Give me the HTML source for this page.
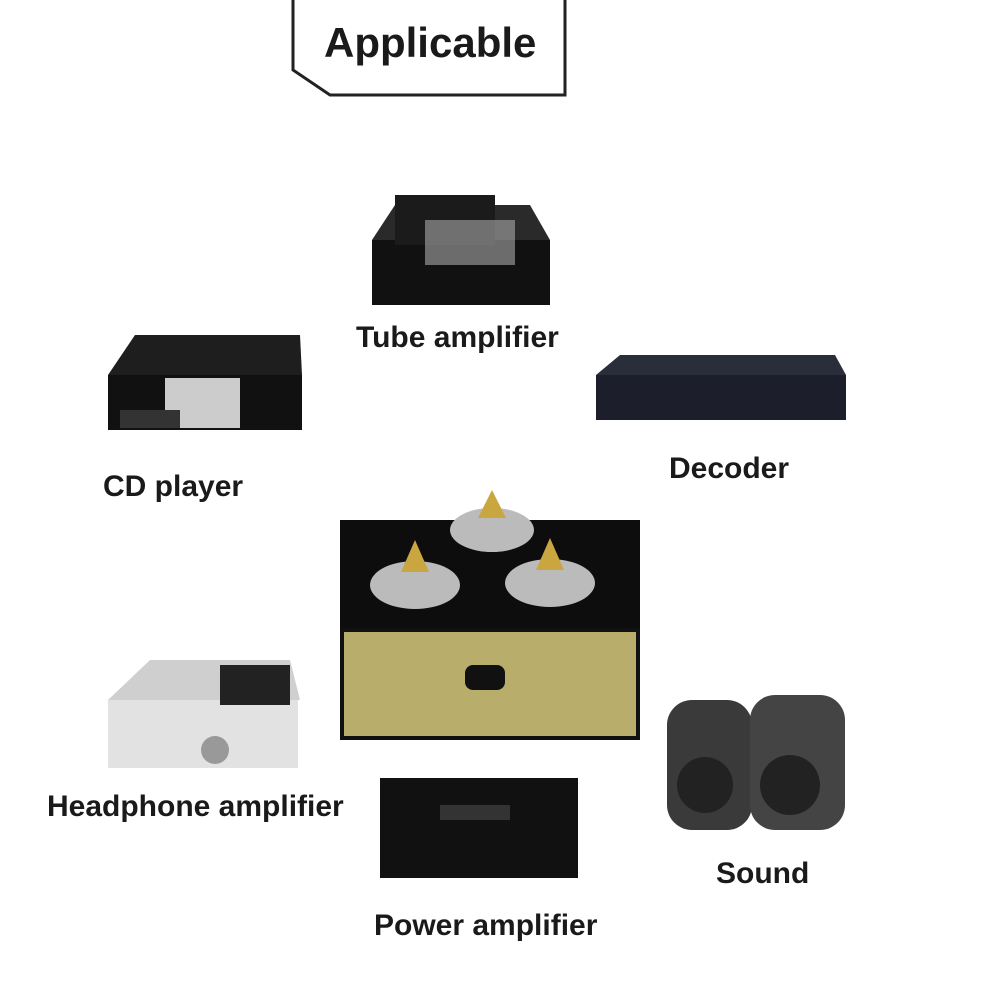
<!DOCTYPE html>
<html><head><meta charset="utf-8"><style>
body{margin:0;width:1000px;height:1000px;background:#fff;position:relative;overflow:hidden;font-family:"Liberation Sans",sans-serif}
.a{position:absolute}
.t{position:absolute;font-weight:bold;font-size:30px;color:#1a1a1a;white-space:nowrap}
</style></head><body>
<svg class="a" style="left:0;top:0" width="1000" height="1000">
<polyline points="293,0 293,70 330,95 565,95 565,0" fill="none" stroke="#222" stroke-width="3"/>
<polygon points="372,240 395,205 530,205 550,240" fill="#2a2a2a"/>
<rect x="372" y="240" width="178" height="65" fill="#111"/>
<rect x="395" y="195" width="100" height="50" fill="#1b1b1b"/>
<rect x="425" y="220" width="90" height="45" fill="#aaa" opacity=".6"/>
<polygon points="108,375 135,335 300,335 302,375" fill="#1e1e1e"/>
<rect x="108" y="375" width="194" height="55" fill="#111"/>
<rect x="165" y="378" width="75" height="50" fill="#ccc"/>
<rect x="120" y="410" width="60" height="18" fill="#333"/>
<polygon points="596,375 620,355 835,355 846,375" fill="#2a2d3a"/>
<rect x="596" y="375" width="250" height="45" fill="#1c1f2b"/>
<rect x="340" y="520" width="300" height="112" fill="#0d0d0d"/>
<rect x="342" y="630" width="296" height="108" fill="#b8ad6a" stroke="#111" stroke-width="4"/>
<rect x="465" y="665" width="40" height="25" rx="8" fill="#111"/>
<ellipse cx="492" cy="530" rx="42" ry="22" fill="#bbb"/><polygon points="478,518 492,490 506,518" fill="#c9a640"/>
<ellipse cx="415" cy="585" rx="45" ry="24" fill="#bbb"/><polygon points="401,572 415,540 429,572" fill="#c9a640"/>
<ellipse cx="550" cy="583" rx="45" ry="24" fill="#bbb"/><polygon points="536,570 550,538 564,570" fill="#c9a640"/>
<polygon points="108,700 150,660 290,660 300,700" fill="#cfcfcf"/>
<rect x="108" y="700" width="190" height="68" fill="#e2e2e2"/>
<rect x="220" y="665" width="70" height="40" fill="#222"/>
<circle cx="215" cy="750" r="14" fill="#999"/>
<rect x="380" y="778" width="198" height="100" fill="#111"/>
<rect x="440" y="805" width="70" height="15" fill="#333"/>
<rect x="667" y="700" width="85" height="130" rx="25" fill="#3a3a3a"/>
<rect x="750" y="695" width="95" height="135" rx="25" fill="#444"/>
<circle cx="705" cy="785" r="28" fill="#222"/><circle cx="790" cy="785" r="30" fill="#222"/>
</svg>
<div class="t" style="left:324px;top:19px;font-size:42px">Applicable</div>
<div class="t" style="left:356px;top:321px">Tube amplifier</div>
<div class="t" style="left:103px;top:470px">CD player</div>
<div class="t" style="left:669px;top:452px">Decoder</div>
<div class="t" style="left:47px;top:790px">Headphone amplifier</div>
<div class="t" style="left:374px;top:909px">Power amplifier</div>
<div class="t" style="left:716px;top:857px">Sound</div>
</body></html>
